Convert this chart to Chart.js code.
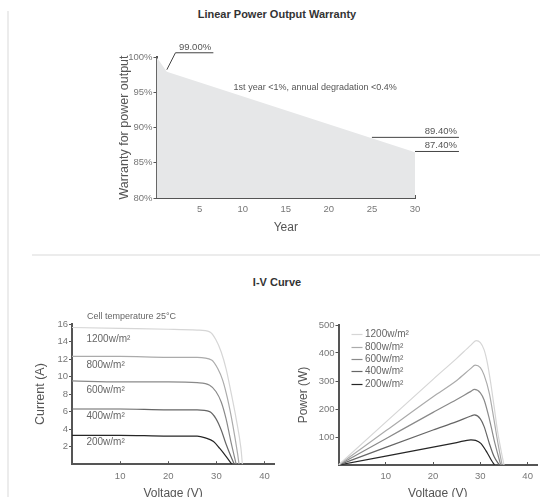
<!DOCTYPE html>
<html>
<head>
<meta charset="utf-8">
<title>Power warranty and I-V curve</title>
<script src="https://cdn.jsdelivr.net/npm/chart.js@4.4.0/dist/chart.umd.min.js"></script>
<style>
  html, body { margin: 0; padding: 0; }
  body { width: 540px; height: 497px; overflow: hidden; background: #fff; position: relative;
         font-family: "Liberation Sans", Arial, sans-serif; }
  canvas { position: absolute; }
  #sideLine { position: absolute; left: 7px; top: 11px; width: 2px; height: 486px; background: #ececec; }
  #sep { position: absolute; left: 32px; top: 254px; width: 508px; height: 2px; background: #ececec; }
  .title { position: absolute; left: 0; width: 554px; text-align: center; font-weight: bold;
           font-size: 11px; line-height: 13px; color: #333; }
</style>
</head>
<body>
<div id="sideLine"></div>
<div class="title" style="top:8px">Linear Power Output Warranty</div>
<div id="sep"></div>
<div class="title" style="top:276px">I-V Curve</div>

<canvas id="warranty" width="360" height="200" style="left:113px;top:40px"></canvas>
<canvas id="iv" width="250" height="206" style="left:29px;top:300px"></canvas>
<canvas id="pv" width="250" height="206" style="left:292px;top:300px"></canvas>

<script>
// ---- warranty chart data ----
const warrantyYears = [0, 1.2, 30];
const warrantyValues = [100, 97.9, 86.5];
const warrantyTicksX = [5, 10, 15, 20, 25, 30];
const warrantyTicksY = [80, 85, 90, 95, 100];
const warrantyLabels = ['99.00%', '89.40%', '87.40%'];
const warrantyNote = '1st year <1%, annual degradation <0.4%';

// ---- I-V / P-V data (irradiance series) ----
const irradiance = ['1200w/m\u00b2', '800w/m\u00b2', '600w/m\u00b2', '400w/m\u00b2', '200w/m\u00b2'];

const ivV1200 = [0, 10, 20, 26, 28.6, 29.9, 31, 32, 33, 34.1, 35.1, 35.4];
const ivI1200 = [15.6, 15.5, 15.4, 15.3, 15.1, 14.2, 12.8, 10.9, 8.3, 5.2, 1.8, 0];
const ivV800 = [0, 10, 20, 26, 29, 30.3, 31.3, 32.3, 33.4, 34.4, 34.7];
const ivI800 = [12.3, 12.3, 12.2, 12.2, 11.9, 10.9, 9.6, 7.5, 4.5, 1.2, 0];
const ivV600 = [0, 10, 20, 26, 28.6, 29.9, 31, 32, 33, 34.1];
const ivI600 = [9.5, 9.4, 9.4, 9.3, 9.0, 8.3, 7.1, 5.2, 2.6, 0];
const ivV400 = [0, 10, 20, 26, 28.6, 29.9, 31, 32, 33, 33.7];
const ivI400 = [6.3, 6.3, 6.2, 6.2, 6.0, 5.2, 3.9, 2.3, 0.9, 0];
const ivV200 = [0, 10, 20, 26, 27.7, 29.4, 30.7, 32, 33.2];
const ivI200 = [3.3, 3.3, 3.2, 3.2, 3.0, 2.6, 1.8, 0.9, 0];

const pvV1200 = [0, 10, 20, 25, 28, 29.1, 30, 30.8, 31.5, 32.2, 32.9, 33.6, 34.4, 35];
const pvP1200 = [0, 153, 306, 381, 428, 444, 437, 411, 363, 292, 210, 125, 50, 0];
const pvV800 = [0, 10, 20, 25, 28, 28.9, 30, 30.8, 31.9, 32.9, 33.8, 34.6];
const pvP800 = [0, 122, 244, 302, 345, 357, 348, 321, 256, 160, 70, 0];
const pvV600 = [0, 10, 20, 25, 28, 28.75, 30, 30.8, 31.9, 32.9, 34.3];
const pvP600 = [0, 94, 188, 234, 263, 270, 258, 232, 165, 90, 0];
const pvV400 = [0, 10, 20, 25, 28, 28.75, 30, 30.8, 31.9, 32.9, 34];
const pvP400 = [0, 63, 125, 155, 175, 179, 165, 137, 77, 30, 0];
const pvV200 = [0, 10, 20, 25, 28, 29, 30.1, 31.5, 32.4, 33];
const pvP200 = [0, 32, 64, 80, 90, 88, 77, 42, 15, 0];

const ivTicksX = [10, 20, 30, 40];
const ivTicksY = [2, 4, 6, 8, 10, 12, 14, 16];
const pvTicksY = [100, 200, 300, 400, 500];

const lineColors = ['#d6d6d6', '#ababab', '#8a8a8a', '#666666', '#262626'];
const fontFam = '"Liberation Sans", Arial, sans-serif';

Chart.defaults.font.family = fontFam;
Chart.defaults.color = '#777';
Chart.defaults.animation = false;

function pairs(xs, ys) {
  return xs.map((x, i) => ({ x: x, y: ys[i] }));
}

// one axis, ticks fixed to a list, size fixed so chart areas line up
function axis(list, min, max, titleText, size, isX, fmt, titleSize) {
  return {
    type: 'linear', min: min, max: max,
    afterBuildTicks: s => { s.ticks = list.map(v => ({ value: v })); },
    afterFit: s => { if (isX) s.height = size; else s.width = size; },
    grid: { drawOnChartArea: false, color: '#555', lineWidth: 1, tickLength: isX ? -3 : 3 },
    border: { color: '#555', width: 2 },
    ticks: { font: { size: 9.5 }, color: '#777', padding: isX ? 9 : 1, autoSkip: false, maxRotation: 0,
             callback: fmt || (v => v) },
    title: { display: true, text: titleText, color: '#555', font: { size: titleSize || 12 },
             padding: { top: 4, bottom: 4 } }
  };
}

function seriesSets(xsList, ysList) {
  return xsList.map((xs, i) => ({
    label: irradiance[i],
    data: pairs(xs, ysList[i]),
    showLine: true,
    borderColor: lineColors[i],
    borderWidth: 1.2,
    pointRadius: 0,
    cubicInterpolationMode: 'monotone',
    fill: false
  }));
}

const baseOpts = {
  responsive: false,
  plugins: { legend: { display: false }, tooltip: { enabled: false }, title: { display: false } }
};

// ---------- warranty ----------
const warrantyNotes = {
  id: 'warrantyNotes',
  afterDraw(chart) {
    const { ctx } = chart;
    const x = chart.scales.x, y = chart.scales.y;
    const px = v => x.getPixelForValue(v), py = v => y.getPixelForValue(v);
    ctx.save();
    ctx.strokeStyle = '#444';
    ctx.lineWidth = 1;
    ctx.fillStyle = '#555';
    ctx.font = '9.5px ' + fontFam;

    // first year call-out
    ctx.beginPath();
    ctx.moveTo(px(1.2), py(98.2));
    ctx.lineTo(px(2.2), py(100.6));
    ctx.lineTo(px(6.6), py(100.6));
    ctx.stroke();
    ctx.textAlign = 'left';
    ctx.textBaseline = 'bottom';
    ctx.fillText(warrantyLabels[0], px(2.6), py(100.6) - 1);

    // year 25 and 30 call-outs
    ctx.textAlign = 'right';
    [[25, 88.6, warrantyLabels[1]], [30, 86.6, warrantyLabels[2]]].forEach(n => {
      ctx.beginPath();
      ctx.moveTo(px(n[0]), py(n[1]));
      ctx.lineTo(px(35.1), py(n[1]));
      ctx.stroke();
      ctx.fillText(n[2], px(35.1) - 2, py(n[1]) - 1);
    });

    ctx.font = '9px ' + fontFam;
    ctx.textAlign = 'left';
    ctx.textBaseline = 'middle';
    ctx.fillText(warrantyNote, px(8.95), py(95.7));
    ctx.restore();
  }
};

new Chart(document.getElementById('warranty'), {
  type: 'line',
  data: {
    datasets: [{
      data: pairs(warrantyYears, warrantyValues),
      fill: 'start',
      backgroundColor: '#e6e7e8',
      borderWidth: 0,
      borderColor: 'rgba(0,0,0,0)',
      pointRadius: 0,
      tension: 0
    }]
  },
  options: Object.assign({}, baseOpts, {
    layout: { padding: { top: 17, right: 58, bottom: 1, left: 0 } },
    scales: {
      x: axis(warrantyTicksX, 0, 30, 'Year', 41, true),
      y: axis(warrantyTicksY, 80, 100, 'Warranty for power output', 43.5, false, v => v + '%', 12.5)
    }
  }),
  plugins: [warrantyNotes]
});

// ---------- I-V ----------
const ivLabels = {
  id: 'ivLabels',
  afterDraw(chart) {
    const { ctx } = chart;
    const x = chart.scales.x, y = chart.scales.y;
    const spots = [14.3, 11.3, 8.4, 5.5, 2.5];
    ctx.save();
    ctx.fillStyle = '#666';
    ctx.textAlign = 'left';
    ctx.textBaseline = 'middle';
    ctx.font = '9px ' + fontFam;
    ctx.fillText('Cell temperature 25\u00b0C', x.getPixelForValue(3.1), y.getPixelForValue(16.8));
    ctx.font = '10px ' + fontFam;
    irradiance.forEach((t, i) => ctx.fillText(t, x.getPixelForValue(3.0), y.getPixelForValue(spots[i])));
    ctx.restore();
  }
};

new Chart(document.getElementById('iv'), {
  type: 'scatter',
  data: {
    datasets: seriesSets([ivV1200, ivV800, ivV600, ivV400, ivV200],
                         [ivI1200, ivI800, ivI600, ivI400, ivI200])
  },
  options: Object.assign({}, baseOpts, {
    layout: { padding: { top: 24, right: 3.8, bottom: 1.5, left: 0 } },
    scales: {
      x: axis(ivTicksX, 0, 42, 'Voltage (V)', 40.3, true),
      y: axis(ivTicksY, 0, 16, 'Current (A)', 43, false, null, 12.5)
    }
  }),
  plugins: [ivLabels]
});

// ---------- P-V ----------
const pvLegend = {
  id: 'pvLegend',
  afterDraw(chart) {
    const { ctx, chartArea } = chart;
    ctx.save();
    ctx.font = '10px ' + fontFam;
    ctx.textAlign = 'left';
    ctx.textBaseline = 'middle';
    chart.data.datasets.forEach((ds, i) => {
      const yy = Math.round(chartArea.top + 9.3 + i * 12.3) + 0.5;
      ctx.strokeStyle = ds.borderColor;
      ctx.lineWidth = 1.2;
      ctx.beginPath();
      ctx.moveTo(chartArea.left + 13, yy);
      ctx.lineTo(chartArea.left + 24, yy);
      ctx.stroke();
      ctx.fillStyle = '#666';
      ctx.fillText(ds.label, chartArea.left + 26.5, yy);
    });
    ctx.restore();
  }
};

new Chart(document.getElementById('pv'), {
  type: 'scatter',
  data: {
    datasets: seriesSets([pvV1200, pvV800, pvV600, pvV400, pvV200],
                         [pvP1200, pvP800, pvP600, pvP400, pvP200])
  },
  options: Object.assign({}, baseOpts, {
    layout: { padding: { top: 25, right: 1.7, bottom: 1.5, left: 0 } },
    scales: {
      x: axis(ivTicksX, 0, 42, 'Voltage (V)', 39.5, true),
      y: axis(pvTicksY, 0, 500, 'Power (W)', 46.5, false)
    }
  }),
  plugins: [pvLegend]
});
</script>
</body>
</html>
